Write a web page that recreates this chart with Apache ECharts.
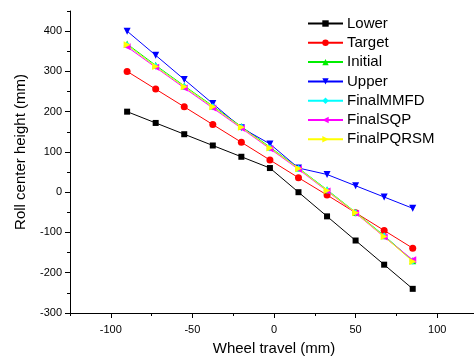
<!DOCTYPE html>
<html><head><meta charset="utf-8">
<script src="https://cdn.jsdelivr.net/npm/echarts@6/dist/echarts.min.js"></script>
<style>html,body{margin:0;padding:0;background:#fff}#c{width:474px;height:358px}</style>
</head><body><div id="c"></div>
<script>
const wheelTravel = [-90, -72.5, -55, -37.5, -20, -2.5, 15, 32.5, 50, 67.5, 85];
const lower   = [200, 172, 144, 116, 88, 60, 0, -60, -120, -180, -240];
const target  = [300, 256, 212, 168, 124, 80, 36, -7, -51, -95, -139];
const initial = [368, 315, 264, 214, 163, 112, 60, 6, -50, -108, -170];
const upper   = [400, 340, 280, 220, 160, 120, 60, 44, 16, -12, -40];
const finalMMFD  = [365, 313, 262, 212, 161, 110, 59, 5, -51, -109, -171];
const finalSQP   = [361, 310, 259, 209, 159, 108, 57, 3, -52, -111, -168];
const finalPQRSM = [366, 312, 262, 212, 161, 110, 59, 4, -51, -110, -172];
const xMajor = [-100, -50, 0, 50, 100];
const yMajor = [-300, -200, -100, 0, 100, 200, 300, 400];

const pairs = a => wheelTravel.map((x, i) => [x, a[i]]);
const defs = [
  ['Lower', lower, '#000000', 'rect', 0, 6],
  ['Target', target, '#ff0000', 'circle', 0, 7],
  ['Initial', initial, '#00ee00', 'triangle', 0, 7],
  ['Upper', upper, '#0000ff', 'triangle', 180, 7],
  ['FinalMMFD', finalMMFD, '#00ffff', 'diamond', 0, 7],
  ['FinalSQP', finalSQP, '#ff00ff', 'triangle', 90, 7],
  ['FinalPQRSM', finalPQRSM, '#ffff00', 'triangle', -90, 7]
];
const font = 'Liberation Sans, Arial, sans-serif';
const series = defs.map(d => ({
  name: d[0], type: 'line', data: pairs(d[1]), symbol: d[3], symbolRotate: d[4], symbolSize: d[5],
  xAxisIndex: 0, yAxisIndex: 0,
  lineStyle: {color: d[2], width: 1}, itemStyle: {color: d[2]}, animation: false
}));
const gridBox = {left: 70, right: -4, top: 11, bottom: 45, containLabel: false, outerBoundsMode: 'none'};
const chart = echarts.init(document.getElementById('c'));
chart.setOption({
  animation: false,
  grid: [Object.assign({}, gridBox), Object.assign({}, gridBox)],
  legend: {
    orient: 'vertical', left: 302, top: 11, itemWidth: 35, itemHeight: 8, itemGap: 4.3,
    textStyle: {fontFamily: font, fontSize: 15, color: '#000', lineHeight: 14, padding: [0, 0, 0, -1]},
    data: defs.map(d => d[0])
  },
  xAxis: [{
    gridIndex: 0, type: 'value', min: -125, max: 125, position: 'bottom',
    name: 'Wheel travel (mm)', nameLocation: 'middle', nameGap: 28,
    nameTextStyle: {fontFamily: font, fontSize: 15, color: '#000'},
    axisLine: {show: true, onZero: false, lineStyle: {color: '#000', width: 1}},
    axisTick: {show: true, length: 5, customValues: xMajor, lineStyle: {color: '#000'}},
    axisLabel: {customValues: xMajor, fontFamily: font, fontSize: 11, color: '#000', margin: 11},
    splitLine: {show: false}
  }, {
    gridIndex: 1, type: 'value', min: -125, max: 125, interval: 25, position: 'bottom',
    axisLine: {show: false, onZero: false},
    axisTick: {show: true, length: 3, lineStyle: {color: '#000'}},
    axisLabel: {show: false}, splitLine: {show: false}
  }],
  yAxis: [{
    gridIndex: 0, type: 'value', min: -300, max: 450, position: 'left',
    name: 'Roll center height (mm)', nameLocation: 'middle', nameGap: 42,
    nameTextStyle: {fontFamily: font, fontSize: 15, color: '#000', padding: [0, 0, 0, 20]},
    axisLine: {show: true, onZero: false, lineStyle: {color: '#000', width: 1}},
    axisTick: {show: true, length: 5, customValues: yMajor, lineStyle: {color: '#000'}},
    axisLabel: {customValues: yMajor, fontFamily: font, fontSize: 11, color: '#000', margin: 8},
    splitLine: {show: false}
  }, {
    gridIndex: 1, type: 'value', min: -300, max: 450, interval: 50, position: 'left',
    axisLine: {show: false, onZero: false},
    axisTick: {show: true, length: 3, lineStyle: {color: '#000'}},
    axisLabel: {show: false}, splitLine: {show: false}
  }],
  series: series
});
</script></body></html>
